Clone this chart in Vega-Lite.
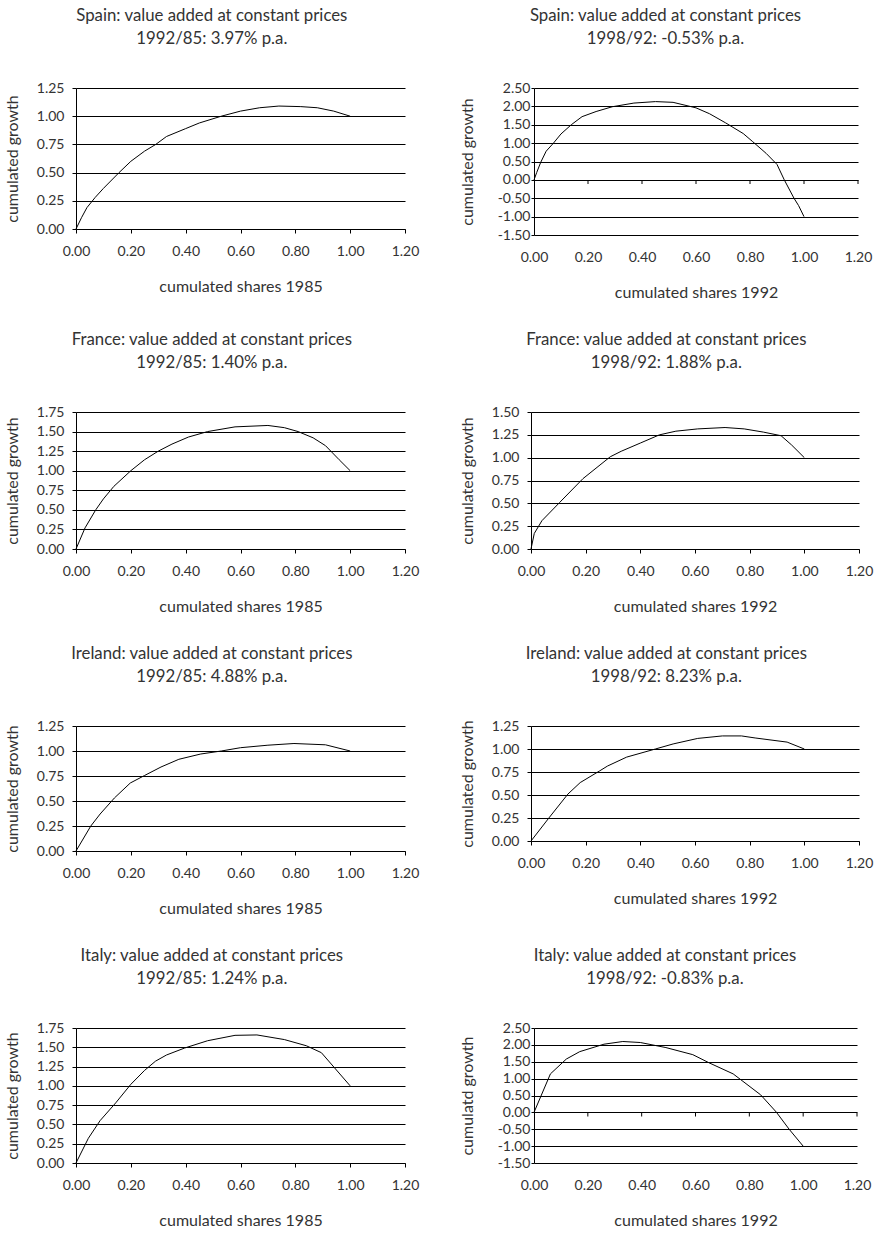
{
  "$schema": "https://vega.github.io/schema/vega-lite/v6.json",
  "padding": {"left": 4, "top": 8, "right": 5, "bottom": 0},
  "background": "#ffffff",
  "datasets": {
    "es85": [
      {"share": 0, "growth": 0}, {"share": 0.02, "growth": 0.1}, {"share": 0.04, "growth": 0.19},
      {"share": 0.07, "growth": 0.28}, {"share": 0.1, "growth": 0.36}, {"share": 0.157, "growth": 0.5},
      {"share": 0.2, "growth": 0.6}, {"share": 0.25, "growth": 0.69}, {"share": 0.291, "growth": 0.75},
      {"share": 0.33, "growth": 0.82}, {"share": 0.4, "growth": 0.89}, {"share": 0.45, "growth": 0.94},
      {"share": 0.53, "growth": 1.0}, {"share": 0.6, "growth": 1.045}, {"share": 0.67, "growth": 1.075},
      {"share": 0.74, "growth": 1.09}, {"share": 0.82, "growth": 1.085}, {"share": 0.88, "growth": 1.075},
      {"share": 0.94, "growth": 1.045}, {"share": 1.0, "growth": 1.0}
    ],
    "es92": [
      {"share": 0, "growth": 0}, {"share": 0.01, "growth": 0.2}, {"share": 0.025, "growth": 0.48},
      {"share": 0.045, "growth": 0.78}, {"share": 0.072, "growth": 1.0}, {"share": 0.1, "growth": 1.25},
      {"share": 0.138, "growth": 1.5}, {"share": 0.178, "growth": 1.72}, {"share": 0.23, "growth": 1.86},
      {"share": 0.29, "growth": 1.99}, {"share": 0.37, "growth": 2.09}, {"share": 0.45, "growth": 2.13},
      {"share": 0.515, "growth": 2.11}, {"share": 0.6, "growth": 1.96}, {"share": 0.65, "growth": 1.8},
      {"share": 0.71, "growth": 1.55}, {"share": 0.775, "growth": 1.26}, {"share": 0.81, "growth": 1.04},
      {"share": 0.86, "growth": 0.72}, {"share": 0.9, "growth": 0.42}, {"share": 0.927, "growth": 0.0},
      {"share": 0.963, "growth": -0.5}, {"share": 0.98, "growth": -0.7}, {"share": 1.0, "growth": -1.0}
    ],
    "fr85": [
      {"share": 0, "growth": 0}, {"share": 0.033, "growth": 0.27}, {"share": 0.072, "growth": 0.5},
      {"share": 0.1, "growth": 0.64}, {"share": 0.138, "growth": 0.8}, {"share": 0.2, "growth": 1.0},
      {"share": 0.25, "growth": 1.14}, {"share": 0.3, "growth": 1.25}, {"share": 0.35, "growth": 1.34},
      {"share": 0.41, "growth": 1.43}, {"share": 0.48, "growth": 1.5}, {"share": 0.58, "growth": 1.56},
      {"share": 0.7, "growth": 1.578}, {"share": 0.76, "growth": 1.55}, {"share": 0.81, "growth": 1.5},
      {"share": 0.865, "growth": 1.42}, {"share": 0.91, "growth": 1.32}, {"share": 0.96, "growth": 1.14},
      {"share": 1.0, "growth": 1.0}
    ],
    "fr92": [
      {"share": 0, "growth": 0}, {"share": 0.012, "growth": 0.17}, {"share": 0.04, "growth": 0.31},
      {"share": 0.105, "growth": 0.51}, {"share": 0.19, "growth": 0.77}, {"share": 0.29, "growth": 1.01},
      {"share": 0.33, "growth": 1.07}, {"share": 0.4, "growth": 1.16}, {"share": 0.47, "growth": 1.25},
      {"share": 0.53, "growth": 1.29}, {"share": 0.61, "growth": 1.315}, {"share": 0.71, "growth": 1.33},
      {"share": 0.78, "growth": 1.315}, {"share": 0.85, "growth": 1.28}, {"share": 0.915, "growth": 1.24},
      {"share": 0.953, "growth": 1.14}, {"share": 1.0, "growth": 1.0}
    ],
    "ie85": [
      {"share": 0, "growth": 0}, {"share": 0.054, "growth": 0.25}, {"share": 0.088, "growth": 0.37},
      {"share": 0.14, "growth": 0.53}, {"share": 0.198, "growth": 0.68}, {"share": 0.25, "growth": 0.755},
      {"share": 0.31, "growth": 0.84}, {"share": 0.375, "growth": 0.917}, {"share": 0.455, "growth": 0.97},
      {"share": 0.53, "growth": 1.0}, {"share": 0.6, "growth": 1.033}, {"share": 0.7, "growth": 1.058},
      {"share": 0.795, "growth": 1.075}, {"share": 0.91, "growth": 1.062}, {"share": 1.0, "growth": 1.0}
    ],
    "ie92": [
      {"share": 0, "growth": 0}, {"share": 0.068, "growth": 0.26}, {"share": 0.135, "growth": 0.51},
      {"share": 0.18, "growth": 0.635}, {"share": 0.25, "growth": 0.76}, {"share": 0.28, "growth": 0.815},
      {"share": 0.35, "growth": 0.912}, {"share": 0.455, "growth": 1.0}, {"share": 0.52, "growth": 1.055},
      {"share": 0.61, "growth": 1.115}, {"share": 0.7, "growth": 1.142}, {"share": 0.77, "growth": 1.142},
      {"share": 0.82, "growth": 1.12}, {"share": 0.937, "growth": 1.075}, {"share": 1.0, "growth": 1.0}
    ],
    "it85": [
      {"share": 0, "growth": 0}, {"share": 0.045, "growth": 0.32}, {"share": 0.088, "growth": 0.55},
      {"share": 0.145, "growth": 0.78}, {"share": 0.2, "growth": 1.02}, {"share": 0.25, "growth": 1.2},
      {"share": 0.29, "growth": 1.32}, {"share": 0.33, "growth": 1.4}, {"share": 0.396, "growth": 1.49},
      {"share": 0.48, "growth": 1.585}, {"share": 0.58, "growth": 1.655}, {"share": 0.66, "growth": 1.66},
      {"share": 0.76, "growth": 1.6}, {"share": 0.84, "growth": 1.52}, {"share": 0.895, "growth": 1.43},
      {"share": 1.0, "growth": 1.0}
    ],
    "it92": [
      {"share": 0, "growth": 0}, {"share": 0.061, "growth": 1.14}, {"share": 0.12, "growth": 1.58},
      {"share": 0.17, "growth": 1.8}, {"share": 0.26, "growth": 2.02}, {"share": 0.33, "growth": 2.1},
      {"share": 0.395, "growth": 2.07}, {"share": 0.49, "growth": 1.92}, {"share": 0.59, "growth": 1.71},
      {"share": 0.65, "growth": 1.47}, {"share": 0.74, "growth": 1.14}, {"share": 0.842, "growth": 0.52},
      {"share": 0.9, "growth": 0.01}, {"share": 0.948, "growth": -0.5}, {"share": 1.0, "growth": -1.0}
    ],
    "xticks": [
      {"share": 0.2}, {"share": 0.4}, {"share": 0.6}, {"share": 0.8}, {"share": 1.0}, {"share": 1.2}
    ]
  },
  "vconcat": [
    {
      "hconcat": [
        {
          "width": 329, "height": 141,
          "title": {"text": ["Spain: value added at constant prices", "1992/85: 3.97% p.a."]},
          "data": {"name": "es85"},
          "mark": {"type": "line"},
          "encoding": {
            "x": {"field": "share", "type": "quantitative", "scale": {"domain": [0, 1.2], "nice": false},
                  "axis": {"values": [0, 0.2, 0.4, 0.6, 0.8, 1, 1.2], "format": ".2f", "title": "cumulated shares 1985"}},
            "y": {"field": "growth", "type": "quantitative", "scale": {"domain": [0, 1.25], "nice": false, "zero": false},
                  "axis": {"values": [0, 0.25, 0.5, 0.75, 1, 1.25], "format": ".2f", "title": "cumulated growth"}}
          }
        },
        {
          "width": 324, "height": 147,
          "title": {"text": ["Spain: value added at constant prices", "1998/92: -0.53% p.a."]},
          "encoding": {
            "x": {"field": "share", "type": "quantitative", "scale": {"domain": [0, 1.2], "nice": false},
                  "axis": {"values": [0, 0.2, 0.4, 0.6, 0.8, 1, 1.2], "format": ".2f", "title": "cumulated shares 1992",
                           "domain": false, "ticks": false, "labelPadding": 15}}
          },
          "layer": [
            {
              "data": {"name": "es92"},
              "mark": {"type": "line"},
              "encoding": {
                "y": {"field": "growth", "type": "quantitative", "scale": {"domain": [-1.5, 2.5], "nice": false, "zero": false},
                      "axis": {"values": [-1.5, -1, -0.5, 0, 0.5, 1, 1.5, 2, 2.5], "format": ".2f", "title": "cumulated growth",
                               "tickSize": 3, "labelPadding": 1, "titlePadding": 22}}
              }
            },
            {
              "data": {"name": "xticks"},
              "mark": {"type": "tick", "orient": "vertical", "size": 4, "thickness": 1, "yOffset": 2, "color": "#000000", "opacity": 1},
              "encoding": {
                "y": {"datum": 0, "type": "quantitative", "scale": {"domain": [-1.5, 2.5], "nice": false, "zero": false},
                      "axis": {"values": [-1.5, -1, -0.5, 0, 0.5, 1, 1.5, 2, 2.5], "format": ".2f", "title": "cumulated growth",
                               "tickSize": 3, "labelPadding": 1, "titlePadding": 22}}
              }
            }
          ]
        }
      ]
    },
    {
      "hconcat": [
        {
          "width": 329, "height": 137,
          "title": {"text": ["France: value added at constant prices", "1992/85: 1.40% p.a."]},
          "data": {"name": "fr85"},
          "mark": {"type": "line"},
          "encoding": {
            "x": {"field": "share", "type": "quantitative", "scale": {"domain": [0, 1.2], "nice": false},
                  "axis": {"values": [0, 0.2, 0.4, 0.6, 0.8, 1, 1.2], "format": ".2f", "title": "cumulated shares 1985"}},
            "y": {"field": "growth", "type": "quantitative", "scale": {"domain": [0, 1.75], "nice": false, "zero": false},
                  "axis": {"values": [0, 0.25, 0.5, 0.75, 1, 1.25, 1.5, 1.75], "format": ".2f", "title": "cumulated growth"}}
          }
        },
        {
          "width": 328, "height": 137,
          "title": {"text": ["France: value added at constant prices", "1998/92: 1.88% p.a."]},
          "data": {"name": "fr92"},
          "mark": {"type": "line"},
          "encoding": {
            "x": {"field": "share", "type": "quantitative", "scale": {"domain": [0, 1.2], "nice": false},
                  "axis": {"values": [0, 0.2, 0.4, 0.6, 0.8, 1, 1.2], "format": ".2f", "title": "cumulated shares 1992"}},
            "y": {"field": "growth", "type": "quantitative", "scale": {"domain": [0, 1.5], "nice": false, "zero": false},
                  "axis": {"values": [0, 0.25, 0.5, 0.75, 1, 1.25, 1.5], "format": ".2f", "title": "cumulated growth"}}
          }
        }
      ]
    },
    {
      "hconcat": [
        {
          "width": 329, "height": 125,
          "title": {"text": ["Ireland: value added at constant prices", "1992/85: 4.88% p.a."]},
          "data": {"name": "ie85"},
          "mark": {"type": "line"},
          "encoding": {
            "x": {"field": "share", "type": "quantitative", "scale": {"domain": [0, 1.2], "nice": false},
                  "axis": {"values": [0, 0.2, 0.4, 0.6, 0.8, 1, 1.2], "format": ".2f", "title": "cumulated shares 1985"}},
            "y": {"field": "growth", "type": "quantitative", "scale": {"domain": [0, 1.25], "nice": false, "zero": false},
                  "axis": {"values": [0, 0.25, 0.5, 0.75, 1, 1.25], "format": ".2f", "title": "cumulated growth"}}
          }
        },
        {
          "width": 328, "height": 115,
          "title": {"text": ["Ireland: value added at constant prices", "1998/92: 8.23% p.a."]},
          "data": {"name": "ie92"},
          "mark": {"type": "line"},
          "encoding": {
            "x": {"field": "share", "type": "quantitative", "scale": {"domain": [0, 1.2], "nice": false},
                  "axis": {"values": [0, 0.2, 0.4, 0.6, 0.8, 1, 1.2], "format": ".2f", "title": "cumulated shares 1992"}},
            "y": {"field": "growth", "type": "quantitative", "scale": {"domain": [0, 1.25], "nice": false, "zero": false},
                  "axis": {"values": [0, 0.25, 0.5, 0.75, 1, 1.25], "format": ".2f", "title": "cumulated growth"}}
          }
        }
      ]
    },
    {
      "hconcat": [
        {
          "width": 329, "height": 135,
          "title": {"text": ["Italy: value added at constant prices", "1992/85: 1.24% p.a."]},
          "data": {"name": "it85"},
          "mark": {"type": "line"},
          "encoding": {
            "x": {"field": "share", "type": "quantitative", "scale": {"domain": [0, 1.2], "nice": false},
                  "axis": {"values": [0, 0.2, 0.4, 0.6, 0.8, 1, 1.2], "format": ".2f", "title": "cumulated shares 1985"}},
            "y": {"field": "growth", "type": "quantitative", "scale": {"domain": [0, 1.75], "nice": false, "zero": false},
                  "axis": {"values": [0, 0.25, 0.5, 0.75, 1, 1.25, 1.5, 1.75], "format": ".2f", "title": "cumulated growth"}}
          }
        },
        {
          "width": 323, "height": 135,
          "title": {"text": ["Italy: value added at constant prices", "1998/92: -0.83% p.a."]},
          "encoding": {
            "x": {"field": "share", "type": "quantitative", "scale": {"domain": [0, 1.2], "nice": false},
                  "axis": {"values": [0, 0.2, 0.4, 0.6, 0.8, 1, 1.2], "format": ".2f", "title": "cumulated shares 1992",
                           "domain": false, "ticks": false, "labelPadding": 15}}
          },
          "layer": [
            {
              "data": {"name": "it92"},
              "mark": {"type": "line"},
              "encoding": {
                "y": {"field": "growth", "type": "quantitative", "scale": {"domain": [-1.5, 2.5], "nice": false, "zero": false},
                      "axis": {"values": [-1.5, -1, -0.5, 0, 0.5, 1, 1.5, 2, 2.5], "format": ".2f", "title": "cumulatd growth",
                               "tickSize": 3, "labelPadding": 1, "titlePadding": 22}}
              }
            },
            {
              "data": {"name": "xticks"},
              "mark": {"type": "tick", "orient": "vertical", "size": 4, "thickness": 1, "yOffset": 2, "color": "#000000", "opacity": 1},
              "encoding": {
                "y": {"datum": 0, "type": "quantitative", "scale": {"domain": [-1.5, 2.5], "nice": false, "zero": false},
                      "axis": {"values": [-1.5, -1, -0.5, 0, 0.5, 1, 1.5, 2, 2.5], "format": ".2f", "title": "cumulatd growth",
                               "tickSize": 3, "labelPadding": 1, "titlePadding": 22}}
              }
            }
          ]
        }
      ]
    }
  ],
  "spacing": 32,
  "config": {
    "font": "Lato",
    "locale": {"number": {"decimal": ".", "thousands": ",", "grouping": [3], "currency": ["$", ""], "minus": "-"}},
    "view": {"stroke": null},
    "concat": {"spacing": 40},
    "line": {"color": "#000000", "strokeWidth": 1},
    "title": {"font": "Lato", "fontSize": 16.8, "fontWeight": "normal", "color": "#333333", "lineHeight": 23,
              "offset": 33, "frame": "bounds", "anchor": "middle"},
    "axis": {
      "labelFont": "Lato", "labelFontSize": 14, "labelColor": "#333333",
      "titleFont": "Lato", "titleFontSize": 16, "titleFontWeight": "normal", "titleColor": "#333333",
      "domainColor": "#000000", "tickColor": "#000000", "gridColor": "#000000", "gridOpacity": 1,
      "tickSize": 4, "labelFlush": false, "labelOverlap": false, "labelBound": false
    },
    "axisX": {"grid": false, "labelPadding": 11, "titlePadding": 20},
    "axisY": {"grid": true, "labelPadding": 8, "titlePadding": 15.5}
  }
}
